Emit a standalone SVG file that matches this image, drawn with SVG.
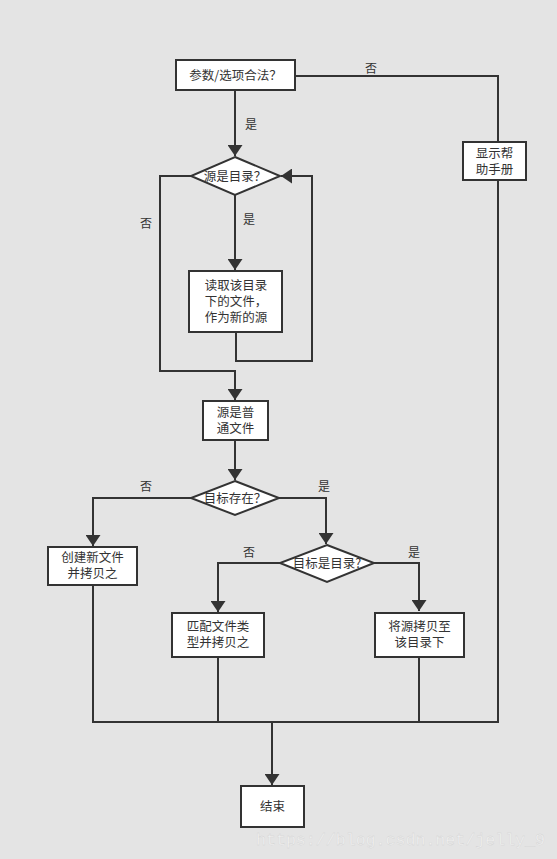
<svg xmlns="http://www.w3.org/2000/svg" width="557" height="859" viewBox="0 0 557 859">
<defs>
<marker id="arr" viewBox="0 0 11 15" refX="11" refY="7.5" markerWidth="11" markerHeight="15" markerUnits="userSpaceOnUse" orient="auto">
<path d="M0,0 L11,7.5 L0,15 Z" fill="#333"/>
</marker>
<style>
.n{fill:#fff;stroke:#333;stroke-width:2}
.t{font-family:"Noto Sans CJK SC","Noto Sans",sans-serif;font-size:12.5px;fill:#333;text-anchor:middle}
.l{font-family:"Noto Sans CJK SC","Noto Sans",sans-serif;font-size:12px;fill:#333;text-anchor:middle}
.c{fill:none;stroke:#333;stroke-width:2}
</style>
</defs>
<rect width="557" height="859" fill="#e4e4e4"/>
<g id="connectors">
<path class="c" d="M235,90 V156" marker-end="url(#arr)"/>
<path class="c" d="M295,76 H498 V142"/>
<path class="c" d="M191,176 H160 V371 H235 V400" marker-end="url(#arr)"/>
<path class="c" d="M235,195 V270" marker-end="url(#arr)"/>
<path class="c" d="M236,332 V361 H312 V176 H281" marker-end="url(#arr)"/>
<path class="c" d="M235,440 V480" marker-end="url(#arr)"/>
<path class="c" d="M191,498 H93 V546" marker-end="url(#arr)"/>
<path class="c" d="M279,498 H326 V544" marker-end="url(#arr)"/>
<path class="c" d="M280,563 H218 V612" marker-end="url(#arr)"/>
<path class="c" d="M374,563 H419 V611" marker-end="url(#arr)"/>
<path class="c" d="M93,585 V722 H498 V180"/>
<path class="c" d="M218,657 V722"/>
<path class="c" d="M419,657 V722"/>
<path class="c" d="M272,722 V785" stroke-width="3" marker-end="url(#arr)"/>
<text class="l" x="251" y="129">是</text>
<text class="l" x="371" y="73">否</text>
<text class="l" x="146" y="228">否</text>
<text class="l" x="249" y="224">是</text>
<text class="l" x="146" y="491">否</text>
<text class="l" x="324" y="491">是</text>
<text class="l" x="249" y="557">否</text>
<text class="l" x="414" y="557">是</text>
</g>
<g id="n1"><rect class="n" x="176" y="60" width="119" height="30"/><text class="t" x="235.5" y="80">参数/选项合法？</text></g>
<g id="n2"><polygon class="n" points="235,157 280,176 235,195 191,176"/><text class="t" x="235" y="181">源是目录？</text></g>
<g id="n3"><rect class="n" x="189" y="271" width="93" height="61"/><text class="t" x="236" y="290">读取该目录<tspan x="236" dy="16">下的文件，</tspan><tspan x="236" dy="16">作为新的源</tspan></text></g>
<g id="n4"><rect class="n" x="203" y="401" width="65" height="39"/><text class="t" x="235.5" y="417">源是普<tspan x="235.5" dy="16">通文件</tspan></text></g>
<g id="n5"><polygon class="n" points="235,481 279,498 235,515 191,498"/><text class="t" x="235" y="503">目标存在？</text></g>
<g id="n6"><rect class="n" x="48" y="547" width="89" height="38"/><text class="t" x="92.5" y="562">创建新文件<tspan x="92.5" dy="16">并拷贝之</tspan></text></g>
<g id="n7"><polygon class="n" points="327,545 374,563 327,582 280,563"/><text class="t" x="327" y="568">目标是目录?</text></g>
<g id="n8"><rect class="n" x="172" y="613" width="92" height="44"/><text class="t" x="218" y="631">匹配文件类<tspan x="218" dy="16">型并拷贝之</tspan></text></g>
<g id="n9"><rect class="n" x="375" y="613" width="89" height="44"/><text class="t" x="419.5" y="631">将源拷贝至<tspan x="419.5" dy="16">该目录下</tspan></text></g>
<g id="n10"><rect class="n" x="463" y="142" width="63" height="38"/><text class="t" x="494.5" y="158">显示帮<tspan x="494.5" dy="16">助手册</tspan></text></g>
<g id="n11"><rect class="n" x="241" y="786" width="63" height="41"/><text class="t" x="272.5" y="811">结束</text></g>
<text x="256" y="845" font-family="'Liberation Mono','DejaVu Sans Mono',monospace" font-size="16" fill="#f2f2f2" stroke="#cfcfcf" stroke-width="0.3" textLength="289" lengthAdjust="spacingAndGlyphs">https://blog.csdn.net/jelly_9</text>
</svg>
